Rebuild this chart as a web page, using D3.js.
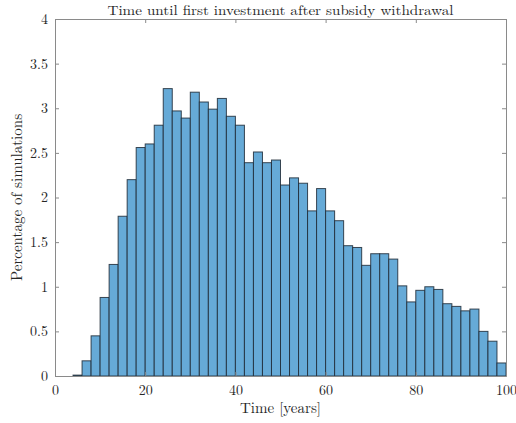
<!DOCTYPE html>
<html>
<head>
<meta charset="utf-8">
<script src="https://cdn.jsdelivr.net/npm/d3@7"></script>
<style>
  body { margin: 0; background: #fff; }
  text { font-family: "Latin Modern Roman", "Liberation Serif", "DejaVu Serif", serif; fill: #262626; }
</style>
</head>
<body>
<div id="chart"></div>
<script>
// Bin edges (years), bin width 2
const binStarts = d3.range(0, 100, 2);
// Percentage of simulations per bin
const percent = [
  0, 0, 0.01, 0.17, 0.45, 0.88, 1.25, 1.79, 2.20, 2.56,
  2.60, 2.81, 3.22, 2.97, 2.89, 3.18, 3.07, 2.99, 3.11, 2.91,
  2.81, 2.39, 2.51, 2.39, 2.42, 2.14, 2.22, 2.16, 1.85, 2.10,
  1.85, 1.74, 1.46, 1.44, 1.24, 1.37, 1.37, 1.31, 1.01, 0.83,
  0.96, 1.00, 0.97, 0.81, 0.78, 0.73, 0.75, 0.50, 0.39, 0.146
];
const xTicks = [0, 20, 40, 60, 80, 100];
const yTicks = [0, 0.5, 1, 1.5, 2, 2.5, 3, 3.5, 4];

const width = 516, height = 423;
const margin = { top: 19, right: 10, bottom: 47, left: 55 };

const svg = d3.select("#chart").append("svg")
  .attr("width", width)
  .attr("height", height);

const x = d3.scaleLinear().domain([0, 100]).range([margin.left, width - margin.right]);
const y = d3.scaleLinear().domain([0, 4]).range([height - margin.bottom, margin.top]);

// Bars
svg.append("g").selectAll("rect")
  .data(percent.map((v, i) => ({ x0: binStarts[i], v: v })).filter(d => d.v > 0))
  .enter().append("rect")
  .attr("x", d => x(d.x0))
  .attr("y", d => y(d.v))
  .attr("width", d => x(d.x0 + 2) - x(d.x0))
  .attr("height", d => y(0) - y(d.v))
  .attr("fill", "#66aad7")
  .attr("stroke", "#1f2a36")
  .attr("stroke-opacity", 0.85)
  .attr("stroke-width", 1);

// Axes box with inward ticks
const axisColor = "#8a8a8a";
const tickLen = 4;

const axBottom = svg.append("g").attr("transform", `translate(0,${y(0)})`)
  .call(d3.axisBottom(x).tickValues(xTicks).tickSizeInner(-tickLen).tickSizeOuter(0).tickPadding(9));
const axTop = svg.append("g").attr("transform", `translate(0,${y(4)})`)
  .call(d3.axisTop(x).tickValues(xTicks).tickSizeInner(-tickLen).tickSizeOuter(0).tickFormat(""));
const axLeft = svg.append("g").attr("transform", `translate(${x(0)},0)`)
  .call(d3.axisLeft(y).tickValues(yTicks).tickFormat(d => String(d))
    .tickSizeInner(-tickLen).tickSizeOuter(0).tickPadding(7));
const axRight = svg.append("g").attr("transform", `translate(${x(100)},0)`)
  .call(d3.axisRight(y).tickValues(yTicks).tickSizeInner(-tickLen).tickSizeOuter(0).tickFormat(""));

[axBottom, axTop, axLeft, axRight].forEach(g => {
  g.selectAll("path, line").attr("stroke", axisColor);
  g.selectAll("text")
    .style("font-family", '"Latin Modern Roman", "Liberation Serif", serif')
    .style("font-size", "14px")
    .attr("fill", "#262626");
});

// Title and labels
svg.append("text")
  .attr("x", (x(0) + x(100)) / 2)
  .attr("y", 15)
  .attr("text-anchor", "middle")
  .attr("textLength", 346)
  .attr("lengthAdjust", "spacingAndGlyphs")
  .style("font-size", "13.5px")
  .text("Time until first investment after subsidy withdrawal");

svg.append("text")
  .attr("x", (x(0) + x(100)) / 2)
  .attr("y", 413)
  .attr("text-anchor", "middle")
  .style("font-size", "15px")
  .text("Time [years]");

svg.append("text")
  .attr("transform", `translate(22,${(y(0) + y(4)) / 2}) rotate(-90)`)
  .attr("text-anchor", "middle")
  .style("font-size", "15px")
  .text("Percentage of simulations");
</script>
</body>
</html>
